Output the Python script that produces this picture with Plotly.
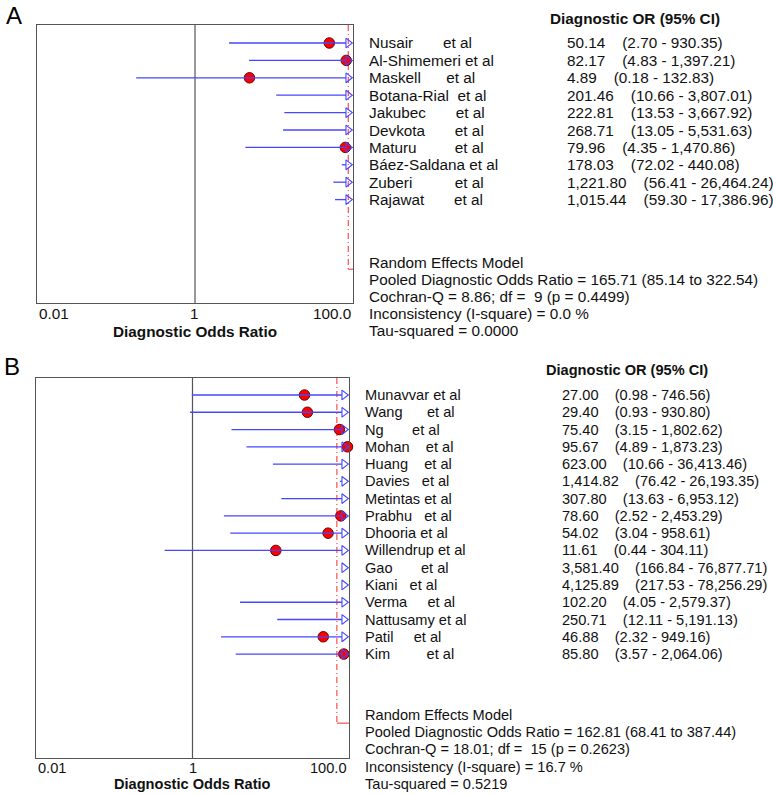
import numpy as np
import plotly.graph_objects as go

W, H = 773, 794

# ---------------- Panel A data ----------------
studies_a = ["Nusair       et al", "Al-Shimemeri et al", "Maskell      et al",
             "Botana-Rial  et al", "Jakubec       et al", "Devkota       et al",
             "Maturu         et al", "Báez-Saldana et al", "Zuberi          et al",
             "Rajawat       et al"]
or_a = [50.14, 82.17, 4.89, 201.46, 222.81, 268.71, 79.96, 178.03, 1221.80, 1015.44]
lo_a = [2.70, 4.83, 0.18, 10.66, 13.53, 13.05, 4.35, 72.02, 56.41, 59.30]
hi_a = [930.35, 1397.21, 132.83, 3807.01, 3667.92, 5531.63, 1470.86, 440.08, 26464.24, 17386.96]
summary_a = ["Random Effects Model",
             "Pooled Diagnostic Odds Ratio = 165.71 (85.14 to 322.54)",
             "Cochran-Q = 8.86; df =  9 (p = 0.4499)",
             "Inconsistency (I-square) = 0.0 %",
             "Tau-squared = 0.0000"]
pooled_line_a = 87.0   # position where the pooled reference line is drawn

# ---------------- Panel B data ----------------
studies_b = ["Munavvar et al", "Wang      et al", "Ng       et al", "Mohan    et al",
             "Huang    et al", "Davies   et al", "Metintas et al", "Prabhu   et al",
             "Dhooria et al", "Willendrup et al", "Gao       et al", "Kiani   et al",
             "Verma     et al", "Nattusamy et al", "Patil     et al", "Kim         et al"]
or_b = [27.00, 29.40, 75.40, 95.67, 623.00, 1414.82, 307.80, 78.60, 54.02, 11.61,
        3581.40, 4125.89, 102.20, 250.71, 46.88, 85.80]
lo_b = [0.98, 0.93, 3.15, 4.89, 10.66, 76.42, 13.63, 2.52, 3.04, 0.44,
        166.84, 217.53, 4.05, 12.11, 2.32, 3.57]
hi_b = [746.56, 930.80, 1802.62, 1873.23, 36413.46, 26193.35, 6953.12, 2453.29, 958.61,
        304.11, 76877.71, 78256.29, 2579.37, 5191.13, 949.16, 2064.06]
summary_b = ["Random Effects Model",
             "Pooled Diagnostic Odds Ratio = 162.81 (68.41 to 387.44)",
             "Cochran-Q = 18.01; df =  15 (p = 0.2623)",
             "Inconsistency (I-square) = 16.7 %",
             "Tau-squared = 0.5219"]
pooled_line_b = 70.0

tick_labels = ["0.01", "1", "100.0"]
axis_title = "Diagnostic Odds Ratio"
col_header = "Diagnostic OR (95% CI)"
panel_letters = ["A", "B"]

# ---------------- layout geometry (pixels) ----------------
geo = [
    dict(x0=37, x1=353, y0=25, y1=303, row0=43, dy=17.4, name_x=367, val_x=565,
         head_x=548, head_y=18, sum_y=[262, 279, 296, 313, 330], tick_y=314,
         title_y=331, letter_x=14, letter_y=15, fs=15.3),
    dict(x0=36, x1=349, y0=378, y1=758, row0=395, dy=17.27, name_x=363, val_x=560,
         head_x=544, head_y=370, sum_y=[715, 732, 749, 767, 784], tick_y=768,
         title_y=784, letter_x=12, letter_y=367, fs=14.6),
]

XMIN, XMAX = 0.01, 100.0
FONT = "Arial, 'Liberation Sans', sans-serif"
TXT = "#111111"
BLUE = "rgb(70,70,255)"
BOX = "#555555"

panels = [
    (studies_a, or_a, lo_a, hi_a, summary_a, pooled_line_a),
    (studies_b, or_b, lo_b, hi_b, summary_b, pooled_line_b),
]

fig = go.Figure()
annotations = []


def px(v):
    return 1 - v / H


TRI = 8.5
r = TRI / 2
rt = r * 2 / np.sqrt(3)
r2 = r / 2

for k, (names, orv, lov, hiv, summ, pooled) in enumerate(panels):
    g = geo[k]
    xa = "x" if k == 0 else "x2"
    ya = "y" if k == 0 else "y2"
    n = len(names)
    ytop = (g["y0"] - g["row0"]) / g["dy"]
    ybot = (g["y1"] - g["row0"]) / g["dy"]
    ppd = (g["x1"] - g["x0"]) / 4.0
    arrow_x = XMAX * 10 ** (-rt / ppd)
    base_x = XMAX * 10 ** (-(rt + r2) / ppd)

    orv = np.array(orv)
    lov = np.array(lov)
    hiv = np.array(hiv)
    rows = np.arange(n)

    # vertical reference line at OR = 1
    fig.add_trace(go.Scatter(x=[1, 1], y=[ytop, ybot], mode="lines",
                             line=dict(color=BOX, width=1.2), xaxis=xa, yaxis=ya,
                             hoverinfo="skip"))
    # pooled line (dash-dot) with small L foot
    fig.add_trace(go.Scatter(x=[pooled, pooled], y=[ytop, n + 3], mode="lines",
                             line=dict(color="rgb(255,40,40)", width=1, dash="6px,3px,1px,3px"),
                             xaxis=xa, yaxis=ya, hoverinfo="skip"))
    fig.add_trace(go.Scatter(x=[pooled, XMAX], y=[n + 3, n + 3], mode="lines",
                             line=dict(color="rgb(255,40,40)", width=1),
                             xaxis=xa, yaxis=ya, hoverinfo="skip", cliponaxis=False))

    # point estimates (only those inside the axis)
    m = orv < XMAX
    fig.add_trace(go.Scatter(x=orv[m], y=rows[m], mode="markers",
                             marker=dict(color="#ff0000", size=10.5,
                                         line=dict(color="#6a0000", width=1)),
                             xaxis=xa, yaxis=ya, cliponaxis=False, hoverinfo="skip"))

    # CI lines
    lx, ly = [], []
    for i in range(n):
        a = max(lov[i], XMIN)
        b = base_x if hiv[i] > XMAX else hiv[i]
        if a < b:
            lx += [a, b, None]
            ly += [i, i, None]
    fig.add_trace(go.Scatter(x=lx, y=ly, mode="lines",
                             line=dict(color=BLUE, width=1.3),
                             xaxis=xa, yaxis=ya, hoverinfo="skip"))

    # arrows for CIs beyond the axis
    mh = hiv > XMAX
    fig.add_trace(go.Scatter(x=np.full(mh.sum(), arrow_x), y=rows[mh], mode="markers",
                             marker=dict(symbol="triangle-right-open", size=TRI,
                                         color=BLUE, line=dict(color=BLUE, width=1.1)),
                             xaxis=xa, yaxis=ya, cliponaxis=False, hoverinfo="skip"))

    axkw = dict(showgrid=False, zeroline=False, showticklabels=False, ticks="",
                showline=True, mirror=True, linecolor=BOX, linewidth=1.2)
    fig.update_layout(**{
        ("xaxis" if k == 0 else "xaxis2"): dict(type="log", range=[-2, 2],
                                               domain=[g["x0"] / W, g["x1"] / W],
                                               anchor=ya, **axkw),
        ("yaxis" if k == 0 else "yaxis2"): dict(range=[ybot, ytop],
                                               domain=[px(g["y1"]), px(g["y0"])],
                                               anchor=xa, **axkw),
    })

    font = dict(size=g["fs"], family=FONT, color=TXT)
    # study names and values
    for i in range(n):
        annotations.append(dict(text=names[i], x=g["name_x"] / W, xref="paper",
                                y=i, yref=ya, xanchor="left", yanchor="middle",
                                showarrow=False, font=font))
        val = f"{orv[i]:,.2f}    ({lov[i]:,.2f} - {hiv[i]:,.2f})"
        annotations.append(dict(text=val, x=g["val_x"] / W, xref="paper",
                                y=i, yref=ya, xanchor="left", yanchor="middle",
                                showarrow=False, font=font))
    annotations.append(dict(text=f"<b>{col_header}</b>", x=g["head_x"] / W, xref="paper",
                            y=px(g["head_y"]), yref="paper", xanchor="left", yanchor="middle",
                            showarrow=False, font=font))
    for line, yy in zip(summ, g["sum_y"]):
        annotations.append(dict(text=line, x=g["name_x"] / W, xref="paper",
                                y=px(yy), yref="paper", xanchor="left", yanchor="middle",
                                showarrow=False, font=font))
    # tick labels
    for lab, xx, anc in zip(tick_labels, [g["x0"], (g["x0"] + g["x1"]) / 2, g["x1"]],
                            ["left", "center", "right"]):
        annotations.append(dict(text=lab, x=xx / W, xref="paper", y=px(g["tick_y"]),
                                yref="paper", xanchor=anc, yanchor="middle", showarrow=False,
                                font=font))
    annotations.append(dict(text=f"<b>{axis_title}</b>", x=(g["x0"] + g["x1"]) / 2 / W,
                            xref="paper", y=px(g["title_y"]), yref="paper", xanchor="center",
                            yanchor="middle", showarrow=False, font=font))
    annotations.append(dict(text=panel_letters[k], x=g["letter_x"] / W, xref="paper",
                            y=px(g["letter_y"]), yref="paper", xanchor="center",
                            yanchor="middle", showarrow=False,
                            font=dict(size=24, family=FONT, color="#000000")))

fig.update_layout(width=W, height=H, margin=dict(l=0, r=0, t=0, b=0),
                  paper_bgcolor="white", plot_bgcolor="white", showlegend=False,
                  annotations=annotations)

fig.write_html("out.html", config={"displayModeBar": False},
               post_script="document.body.style.margin='0';document.body.style.overflow='hidden';")
